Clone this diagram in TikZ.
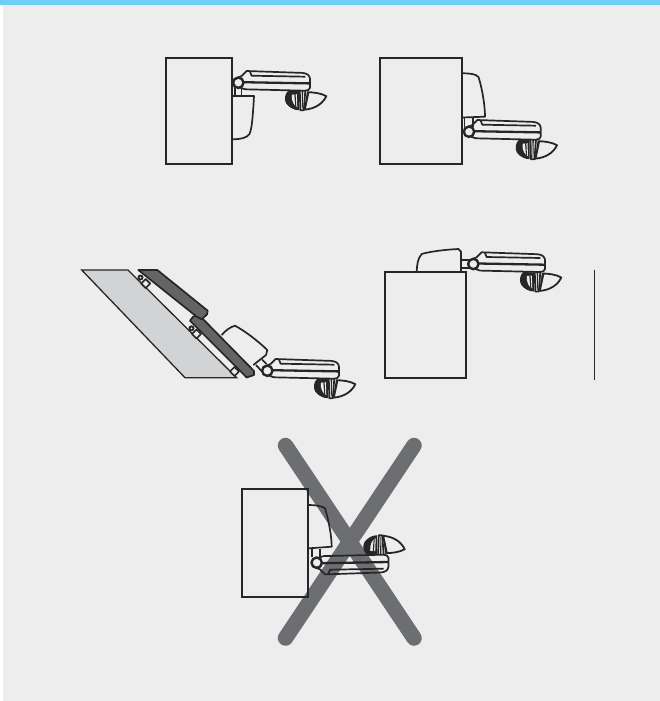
\documentclass[tikz,border=0pt]{standalone}
\usepackage{xcolor}
\usepackage{tikz}
\usetikzlibrary{calc}
\definecolor{panelgray}{HTML}{EDEDED}
\definecolor{topblue}{HTML}{6DCFF6}
\definecolor{slabgray}{HTML}{636466}
\definecolor{deskgray}{HTML}{D1D3D4}
\definecolor{crossgray}{HTML}{6D6E71}
\tikzset{
  desk/.style={draw=black!85, line width=2.3pt, line join=miter},
  part/.style={draw=black!85, line width=1.7pt, line join=round},
  slab/.style={draw=black!85, fill=slabgray, line width=1.7pt, line join=round},
  crossbar/.style={draw=crossgray, line width=15.5pt, line cap=round},
  armunit/.pic={
    % arm body
    \draw[part] (-4.5,-3) -- (3.3,-6.7) -- (8.3,-11.7) -- (64,-9.8) .. controls (69,-9.5) and (71.5,-7) .. (71.7,-4) -- (71.7,5) .. controls (71.7,7) and (69,8) .. (66.7,8) -- (6.7,6.6) -- (2,5);
    \draw[part] (11.5,-11.5) -- (13.3,-7) -- (67,-6);
    \draw[part, line width=2.3pt] (5,-0.5) -- (71.5,0.7);
    % pivot
    \draw[part, line width=2.4pt] (0,0) circle (5.2);
    % mouse, left lobe
    \fill[black!85] (50,8) .. controls (46.5,11) and (45.5,17) .. (48,21) .. controls (51,25) and (56,27.5) .. (60.5,27.5) -- (60.5,8.5) -- cycle;
    \fill[panelgray] (53.5,12) -- (58.5,11.5) -- (59,24.5) .. controls (55.5,23) and (53,18) .. (53.5,12) -- cycle;
    \fill[black!85] (56,11.5) -- (57.3,11.5) -- (58,24) -- (57,23.5) -- cycle;
    % mouse, stem
    \draw[part] (61.5,8) -- (62,27.5) -- (65.5,27.5) -- (67,8);
    \fill[black!85] (63.4,8) -- (64.8,8) -- (64.4,26) -- (63.7,26) -- cycle;
    % mouse, right lobe
    \draw[part, line width=1.8pt] (68.5,9.5) .. controls (75,9.5) and (83,10.5) .. (88,13.5) .. controls (85,20) and (78,26) .. (66,27);
    \fill[black!85] (68.5,10) -- (71,10) -- (67.5,26.5) -- (65.8,26.5) -- cycle;
  }
}
\begin{document}
\begin{tikzpicture}[x=1pt, y=-1pt]
  % panel and top band
  \useasboundingbox (0,0) rectangle (660,701);
  \fill[white] (0,0) rectangle (660,701);
  \fill[panelgray] (3,5) rectangle (660,701);
  \fill[topblue] (0,0) rectangle (660,5);

  % first view
  \draw[desk] (166,58.3) rectangle (232,164);
  \draw[part] (231.7,96) -- (254,96) -- (253.5,105) .. controls (252.5,118) and (252,128) .. (249.5,134) .. controls (247,138) and (240,139.3) .. (233,139.3);
  \draw[part] (235,87) -- (235,96);
  \draw[part] (241.5,87) -- (241.5,96);
  \pic at (238.3,82.7) {armunit};

  % second view
  \draw[desk] (380,58.3) rectangle (461.7,164.3);
  \draw[part] (462,73.3) .. controls (470,73.3) and (476,74) .. (478.5,77) .. controls (482,88) and (485,105) .. (485,116.7) -- (462,117.5);
  \draw[part] (464.5,118) -- (464.5,127);
  \draw[part] (473,118) -- (473,127);
  \pic at (469,131.7) {armunit};

  % third view, tilted
  \draw[fill=deskgray, draw=black!85, line width=1.3pt] (81.7,270) -- (128,270) -- (236.7,377.7) -- (185,377.7) -- cycle;
  \draw[part, fill=panelgray] (145.7,279) -- (150.2,283.5) -- (145.7,288) -- (141.2,283.5) -- cycle;
  \fill[black!85] (140.5,277.5) circle (3);
  \fill[panelgray] (140.5,277.5) circle (1);
  \draw[part, fill=panelgray] (196.5,329.5) -- (201,334) -- (196.5,338.5) -- (192,334) -- cycle;
  \fill[black!85] (191.5,328.3) circle (3);
  \fill[panelgray] (191.5,328.3) circle (1);
  \draw[part, fill=panelgray] (234.5,367) -- (239,371.5) -- (234.5,376) -- (230,371.5) -- cycle;
  \draw[slab] (190,320.7) -- (193.3,316.5) -- (199,315) -- (254,371) -- (254,375) -- (246.7,377.5) -- cycle;
  \draw[slab] (138.3,270) -- (157.3,270) -- (207.7,310.7) -- (207,314.5) -- (201.7,319.3) -- (196.7,316.7) -- cycle;
  \draw[part] (221.7,335) .. controls (225,331) and (230,327) .. (235,325.7) .. controls (245,331) and (258,341) .. (267.3,350) -- (266,355) -- (253.3,365);
  \draw[part] (256,365) -- (261.5,371);
  \draw[part] (262,359.5) -- (266.5,364);
  \pic at (267.3,370.7) {armunit};

  % fourth view, seen from the side
  \draw[desk] (385,272.3) rectangle (466,378.3);
  \draw[part] (416.7,271.5) .. controls (417,264) and (418,258) .. (421.7,254) .. controls (432,251) and (448,249.5) .. (458.3,249) -- (461,251.7) -- (461,271);
  \draw[part] (461,260) -- (469,260);
  \draw[part] (461,268) -- (469,268);
  \pic at (473.3,264) {armunit};
  \draw[draw=black!85, line width=1.1pt] (594.3,270) -- (594.3,380);

  % wrong position
  \draw[crossbar] (285.5,445.5) -- (414,638);
  \draw[crossbar] (414,445.5) -- (285.5,638);
  \draw[desk] (242.3,489.3) rectangle (308.3,597.3);
  \draw[part] (309,505) .. controls (316,505) and (322,506) .. (325,508.3) .. controls (328,518) and (331.7,535) .. (331.7,546.7) -- (309,548.3);
  \draw[part] (312,549) -- (312,557);
  \draw[part] (320,549) -- (320,557);
  \pic[yscale=-1] at (316.7,562.7) {armunit};
\end{tikzpicture}
\end{document}
